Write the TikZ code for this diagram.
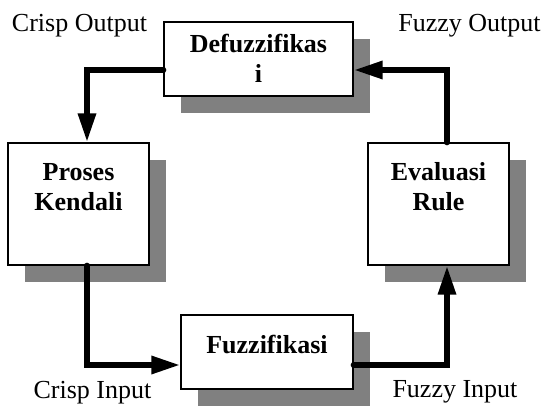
\documentclass[tikz,border=0pt]{standalone}
\usepackage{fontspec}
\setmainfont{Liberation Serif}
\usetikzlibrary{arrows.meta,shadows}

\begin{document}
\begin{tikzpicture}[x=1pt,y=1pt,
        blok/.style={draw, line width=1.3pt, fill=white, align=center,
            font=\fontsize{26}{30}\selectfont\bfseries, inner xsep=0pt, inner ysep=0pt,
            drop shadow={shadow xshift=17pt, shadow yshift=-17pt, fill=black!50, opacity=1}},
        keterangan/.style={font=\fontsize{26}{30}\selectfont, anchor=base, inner sep=0pt},
        panah/.style={line width=6pt, line cap=round, -{Triangle[length=29pt,width=17pt]}}]
        \useasboundingbox (0,0) rectangle (544,405);

        % Define the four blocks of the fuzzy controller
        \node[blok, minimum width=189pt, text height=61pt, text depth=13pt] (defuzz) at (258.5,346) {Defuzzifikas\\i};
        \node[blok, minimum width=141pt, text height=68pt, text depth=54pt] (proses) at (78.5,201) {Proses\\Kendali};
        \node[blok, minimum width=141pt, text height=68pt, text depth=54pt] (evaluasi) at (438.5,201) {Evaluasi\\Rule};
        \node[blok, minimum width=172pt, text height=38pt, text depth=36pt] (fuzz) at (267,53) {Fuzzifikasi};

        % Labels for the signals
        \node[keterangan] (crispout) at (79.5,373) {Crisp Output};
        \node[keterangan] (fuzzyout) at (469.5,373) {Fuzzy Output};
        \node[keterangan] (crispin) at (92.5,7) {Crisp Input};
        \node[keterangan] (fuzzyin) at (455,8) {Fuzzy Input};

        % Draw the loop of thick arrows
        \draw[panah] ([yshift=-11pt]defuzz.west) -| ([xshift=8.5pt]proses.north);
        \draw[panah] ([xshift=8.5pt]proses.south) |- ([yshift=-13pt]fuzz.west);
        \draw[panah] ([yshift=-13pt]fuzz.east) -| ([xshift=8.5pt]evaluasi.south);
        \draw[panah] ([xshift=8.5pt]evaluasi.north) |- ([yshift=-11pt]defuzz.east);
    \end{tikzpicture}
\end{document}
